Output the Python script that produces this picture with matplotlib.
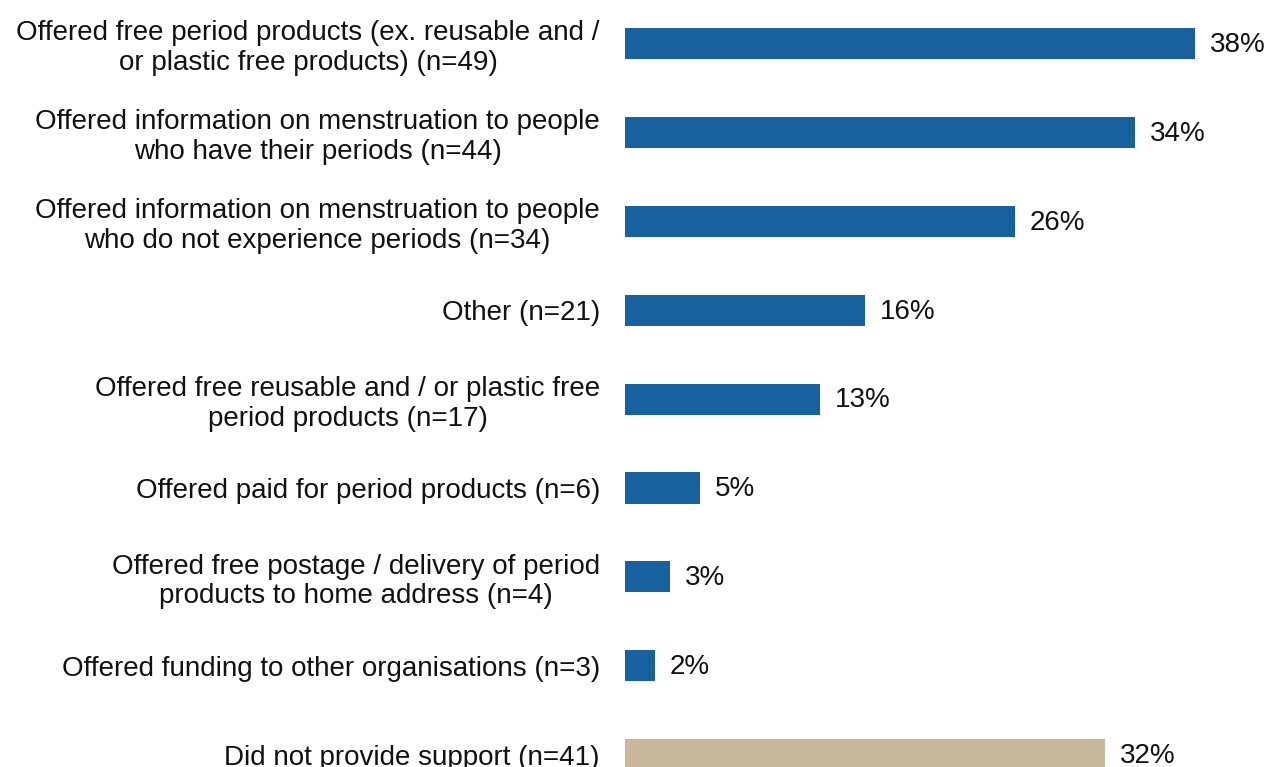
import matplotlib
matplotlib.use("Agg")
import matplotlib.pyplot as plt

categories = [
    "Offered free period products (ex. reusable and /\nor plastic free products) (n=49)",
    "Offered information on menstruation to people\nwho have their periods (n=44)",
    "Offered information on menstruation to people\nwho do not experience periods (n=34)",
    "Other (n=21)",
    "Offered free reusable and / or plastic free\nperiod products (n=17)",
    "Offered paid for period products (n=6)",
    "Offered free postage / delivery of period\nproducts to home address (n=4)",
    "Offered funding to other organisations (n=3)",
    "Did not provide support (n=41)",
]
values = [38, 34, 26, 16, 13, 5, 3, 2, 32]
value_labels = ["38%", "34%", "26%", "16%", "13%", "5%", "3%", "2%", "32%"]

BLUE = "#17619E"
TAN = "#C9B99C"
colors = [BLUE] * 8 + [TAN]
TEXT = "#111111"

plt.rcParams["font.family"] = ["Liberation Sans", "DejaVu Sans"]

W, H = 1268, 767
fig = plt.figure(figsize=(W / 100, H / 100), dpi=100)
left_px = 625
ax = fig.add_axes([left_px / W, 0, 1 - left_px / W, 1])

pos = list(range(len(values)))
ax.barh(pos, values, height=0.35, color=colors, edgecolor="none")

# data x-range: 15 px per percentage point
ax.set_xlim(0, (W - left_px) / 15.0)
step = 88.9
ax.set_ylim((H - 43.5) / step, -43.5 / step)

fs = 20
for p, v, lab in zip(pos, values, value_labels):
    ax.annotate(lab, (v, p), xytext=(10.5, -1), textcoords="offset points",
                ha="left", va="center", fontsize=fs, color=TEXT)

ax.set_yticks(pos)
ax.set_yticklabels(categories, fontsize=fs, color=TEXT)
for t in ax.get_yticklabels():
    t.set_multialignment("center")
    t.set_linespacing(1.17)
ax.tick_params(axis="y", length=0, pad=18)
ax.set_xticks([])
for s in ax.spines.values():
    s.set_visible(False)

fig.savefig("out.png", dpi=100)
